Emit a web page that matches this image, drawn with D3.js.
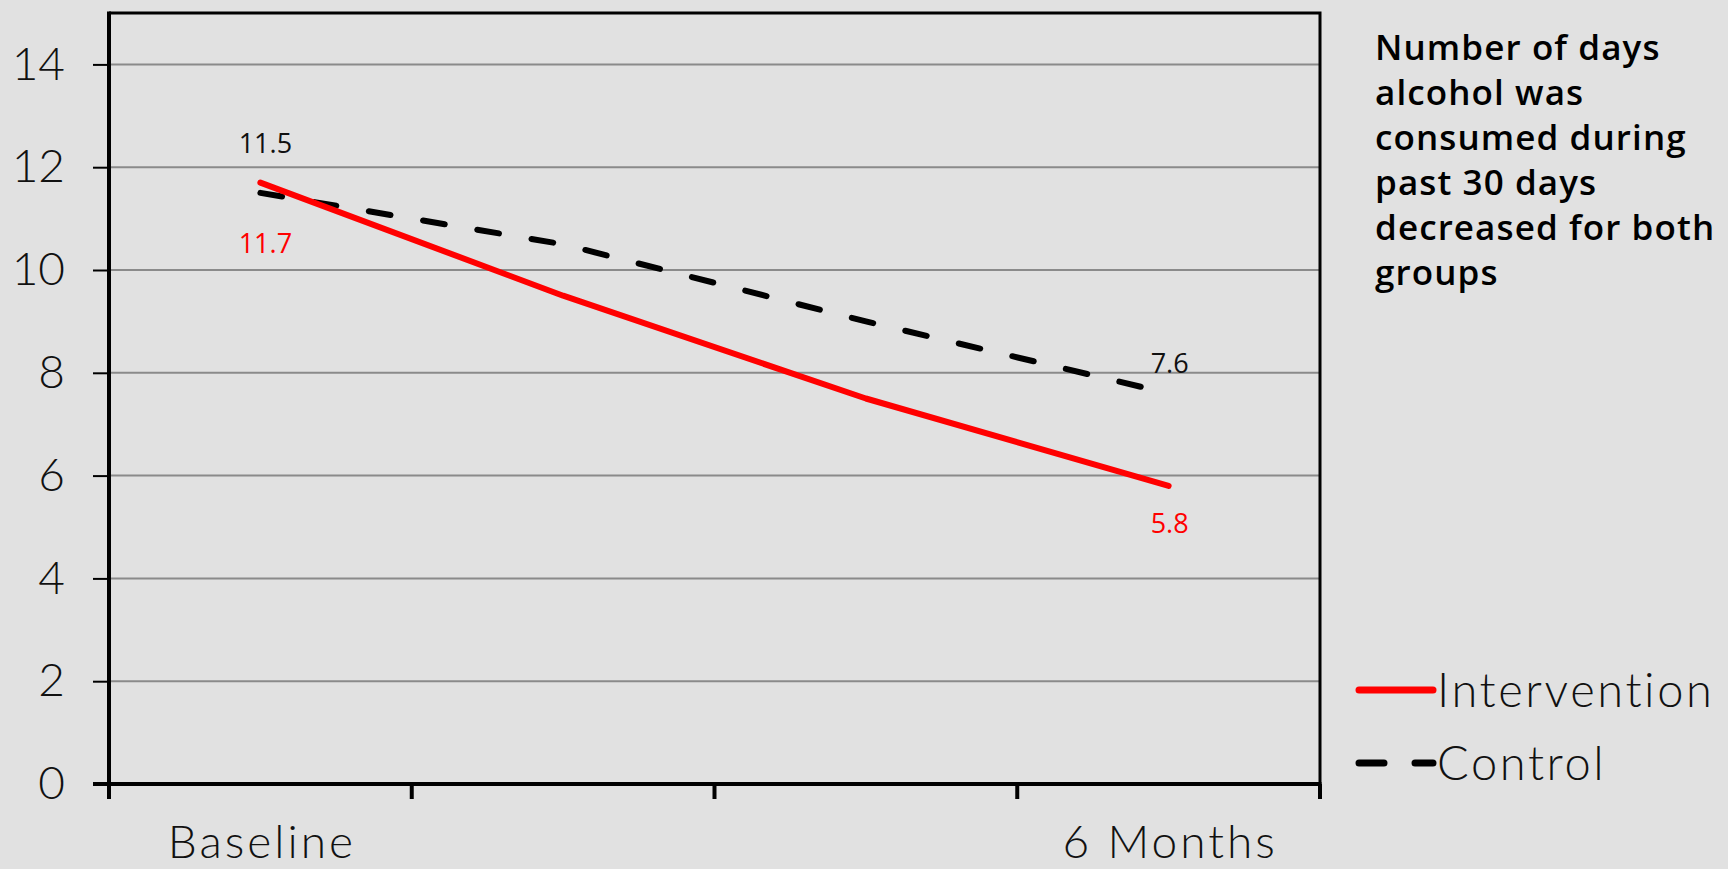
<!DOCTYPE html>
<html>
<head>
<meta charset="utf-8">
<script src="https://cdn.jsdelivr.net/npm/d3@7/dist/d3.min.js"></script>
<style>
  html, body { margin: 0; padding: 0; background: #e1e1e1; }
  svg { display: block; }
</style>
</head>
<body>
<svg id="chart" width="1728" height="869"></svg>
<script>
// Survey waves (only the first and last are labelled on the axis)
const waves = [0, 1, 2, 3];
const waveLabels = ["Baseline", "", "", "6 Months"];

// Mean number of drinking days in the past 30 days
const seriesNames = ["Intervention", "Control"];
const interventionValues = [11.7, 9.5, 7.5, 5.8];
const controlValues = [11.5, 10.5, 9.0, 7.6];

const yTicks = [0, 2, 4, 6, 8, 10, 12, 14];

const noteLines = [
  "Number of days",
  "alcohol was",
  "consumed during",
  "past 30 days",
  "decreased for both",
  "groups"
];

const W = 1728, H = 869;
const plot = { left: 109, right: 1320, top: 13, bottom: 784 };

const svg = d3.select("#chart");

svg.append("rect").attr("width", W).attr("height", H).attr("fill", "#e1e1e1");

const x = d3.scaleBand().domain(waves).range([plot.left, plot.right]).padding(0);
const y = d3.scaleLinear().domain([0, 15]).range([plot.bottom, plot.top]);
const cx = d => x(d) + x.bandwidth() / 2;

// Horizontal gridlines
svg.append("g")
  .selectAll("line")
  .data(yTicks.filter(t => t > 0))
  .join("line")
  .attr("x1", plot.left).attr("x2", plot.right)
  .attr("y1", d => y(d)).attr("y2", d => y(d))
  .attr("stroke", "#8a8a8a").attr("stroke-width", 2);

// Left axis
const yAxis = d3.axisLeft(y).tickValues(yTicks).tickSize(16).tickPadding(28);
const gy = svg.append("g").attr("transform", `translate(${plot.left},0)`).call(yAxis);
gy.select(".domain").remove();
gy.selectAll(".tick line").attr("stroke", "#000").attr("stroke-width", 2);
gy.selectAll(".tick text")
  .attr("fill", "#111")
  .style("font-family", "Lato, 'Noto Sans', sans-serif")
  .style("font-size", "46px")
  .style("font-weight", "300");

// Plot frame: top and right border
svg.append("path")
  .attr("d", `M${plot.left},${plot.top} H${plot.right} V${plot.bottom}`)
  .attr("fill", "none").attr("stroke", "#000").attr("stroke-width", 3);

// Bottom axis: ticks at category boundaries
const boundaries = waves.map(w => x(w)).concat([plot.right]);
svg.append("g")
  .selectAll("line")
  .data(boundaries)
  .join("line")
  .attr("x1", d => d).attr("x2", d => d)
  .attr("y1", plot.bottom).attr("y2", plot.bottom + 15)
  .attr("stroke", "#000").attr("stroke-width", 4);

svg.append("g")
  .selectAll("text")
  .data(waves)
  .join("text")
  .attr("x", d => cx(d) + 1.5)
  .attr("y", 858)
  .attr("text-anchor", "middle")
  .attr("fill", "#111")
  .style("font-family", "Lato, 'Noto Sans', sans-serif")
  .style("font-size", "46px")
  .style("font-weight", "300")
  .style("letter-spacing", "3px")
  .text((d, i) => waveLabels[i]);

// Main axis lines
svg.append("line")
  .attr("x1", plot.left).attr("x2", plot.left)
  .attr("y1", plot.top - 1.5).attr("y2", plot.bottom + 15)
  .attr("stroke", "#000").attr("stroke-width", 4);
svg.append("line")
  .attr("x1", plot.left - 16).attr("x2", plot.right + 1.5)
  .attr("y1", plot.bottom).attr("y2", plot.bottom)
  .attr("stroke", "#000").attr("stroke-width", 4);

// Series lines
const line = d3.line().x((d, i) => cx(waves[i])).y(d => y(d));

const series = [
  { name: seriesNames[0], values: interventionValues, color: "#ff0000", dash: null, labelColor: "#ff0000" },
  { name: seriesNames[1], values: controlValues, color: "#000000", dash: "22,33", labelColor: "#111" }
];

svg.append("g")
  .selectAll("path")
  .data(series.slice().reverse())
  .join("path")
  .attr("d", d => line(d.values))
  .attr("fill", "none")
  .attr("stroke", d => d.color)
  .attr("stroke-width", 6)
  .attr("stroke-linecap", "round")
  .attr("stroke-linejoin", "round")
  .attr("stroke-dasharray", d => d.dash);

// End-point value labels
const lastIdx = waves.length - 1;
const endLabels = [
  { s: series[1], i: 0, dy: -40 },
  { s: series[0], i: 0, dy: 70 },
  { s: series[1], i: lastIdx, dy: -20 },
  { s: series[0], i: lastIdx, dy: 47 }
];
svg.append("g")
  .selectAll("text")
  .data(endLabels)
  .join("text")
  .attr("x", d => cx(waves[d.i]) + (d.i === 0 ? 5 : 1))
  .attr("y", d => y(d.s.values[d.i]) + d.dy)
  .attr("text-anchor", "middle")
  .attr("fill", d => d.s.labelColor)
  .style("font-family", "'Open Sans', sans-serif")
  .style("font-size", "27px")
  .style("font-weight", "500")
  .text(d => d.s.values[d.i].toFixed(1));

// Legend
const legend = svg.append("g");
series.forEach((s, k) => {
  const ly = 690 + k * 73;
  legend.append("line")
    .attr("x1", 1359).attr("x2", 1433)
    .attr("y1", ly).attr("y2", ly)
    .attr("stroke", s.color).attr("stroke-width", 7)
    .attr("stroke-linecap", "round")
    .attr("stroke-dasharray", s.dash ? "25,31" : null);
  legend.append("text")
    .attr("x", 1437).attr("y", ly + 17)
    .attr("fill", "#111")
    .style("font-family", "Lato, 'Noto Sans', sans-serif")
    .style("font-size", "47px")
    .style("font-weight", "300")
    .style("letter-spacing", "2.6px")
    .text(s.name);
});

// Side note
svg.append("text")
  .attr("x", 1375).attr("y", 60)
  .attr("fill", "#000")
  .style("font-family", "'Open Sans', sans-serif")
  .style("font-size", "35px")
  .style("font-weight", "600")
  .style("letter-spacing", "1.1px")
  .selectAll("tspan")
  .data(noteLines)
  .join("tspan")
  .attr("x", 1375)
  .attr("dy", (d, i) => i === 0 ? 0 : 45)
  .text(d => d);
</script>
</body>
</html>
